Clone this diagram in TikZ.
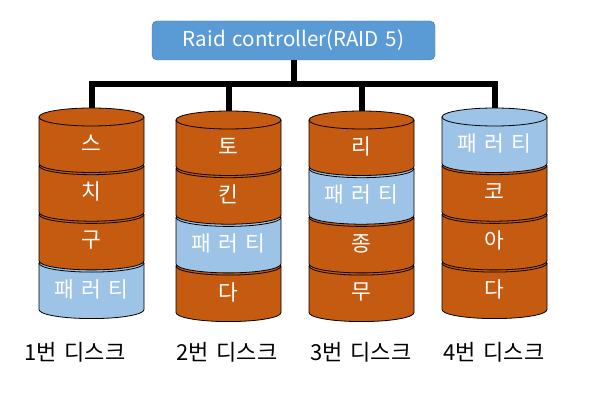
\documentclass[tikz,border=0pt]{standalone}
\usepackage{fontspec}
\usepackage{tikz}
\usetikzlibrary{positioning}
\newfontfamily\kr[WordSpace=1.5]{Noto Sans CJK KR}
\definecolor{diskorange}{RGB}{197,90,17}
\definecolor{parityblue}{RGB}{157,195,230}
\definecolor{ctrlblue}{RGB}{91,155,213}
\definecolor{ctrledge}{RGB}{65,113,156}

% one slice of a disk: x, y of top ellipse, fill, text, name
\newcommand{\diskslice}[5]{%
  \filldraw[slice, fill=#3] (#1-52.5,-#2) -- (#1-52.5,-#2-46.5)
    arc[start angle=180, end angle=360, x radius=52.5pt, y radius=9pt]
    -- (#1+52.5,-#2) arc[start angle=0, end angle=180, x radius=52.5pt, y radius=9pt] -- cycle;
  \draw[slice] (#1-52.5,-#2) arc[start angle=180, end angle=360, x radius=52.5pt, y radius=9pt];
  \node[slicetext] (#5) at (#1,-#2-26) {#4};
}

\begin{document}
\begin{tikzpicture}[x=1pt, y=1pt,
    ctrl/.style={rectangle, draw=ctrledge, fill=ctrlblue, rounded corners=5pt, minimum width=283pt, minimum height=39pt, text=white, font=\kr\fontsize{20.5}{24}\selectfont},
    slice/.style={draw=black, line width=0.8pt},
    slicetext/.style={inner sep=0pt, text=white, font=\kr\fontsize{21.5}{25}\selectfont},
    disklabel/.style={inner sep=0pt, font=\kr\fontsize{22}{26}\selectfont},
    bus/.style={line width=6pt}]

    \useasboundingbox (0,0) rectangle (596,-411);

    \node[ctrl] (ctrl) at (293.5,-40.5) {Raid controller(RAID 5)};
    \coordinate (busmid) at (293.5,-84);
    \coordinate (top1) at (91.5,-108);
    \coordinate (top2) at (228.5,-111);
    \coordinate (top3) at (361.5,-111);
    \coordinate (top4) at (494.5,-108);

    \draw[bus] (ctrl.south) -- (busmid);
    \draw[bus] (top1) |- (busmid) -| (top4);
    \draw[bus] (top2) -- (top2 |- busmid);
    \draw[bus] (top3) -- (top3 |- busmid);

    % disk 1
    \diskslice{91.5}{263.1}{parityblue}{패 러 티}{d14}
    \diskslice{91.5}{214.4}{diskorange}{구}{d13}
    \diskslice{91.5}{165.7}{diskorange}{치}{d12}
    \diskslice{91.5}{117}{diskorange}{스}{d11}
    % disk 2
    \diskslice{228.5}{266.1}{diskorange}{다}{d24}
    \diskslice{228.5}{217.4}{parityblue}{패 러 티}{d23}
    \diskslice{228.5}{168.7}{diskorange}{킨}{d22}
    \diskslice{228.5}{120}{diskorange}{토}{d21}
    % disk 3
    \diskslice{361.5}{266.1}{diskorange}{무}{d34}
    \diskslice{361.5}{217.4}{diskorange}{종}{d33}
    \diskslice{361.5}{168.7}{parityblue}{패 러 티}{d32}
    \diskslice{361.5}{120}{diskorange}{리}{d31}
    % disk 4
    \diskslice{494.5}{263.1}{diskorange}{다}{d44}
    \diskslice{494.5}{214.4}{diskorange}{아}{d43}
    \diskslice{494.5}{165.7}{diskorange}{코}{d42}
    \diskslice{494.5}{117}{parityblue}{패 러 티}{d41}

    \node[disklabel] (lab1) at (75,-352) {1번 디스크};
    \node[disklabel] (lab2) at (227,-352) {2번 디스크};
    \node[disklabel] (lab3) at (361,-352) {3번 디스크};
    \node[disklabel] (lab4) at (494,-352) {4번 디스크};
\end{tikzpicture}
\end{document}
